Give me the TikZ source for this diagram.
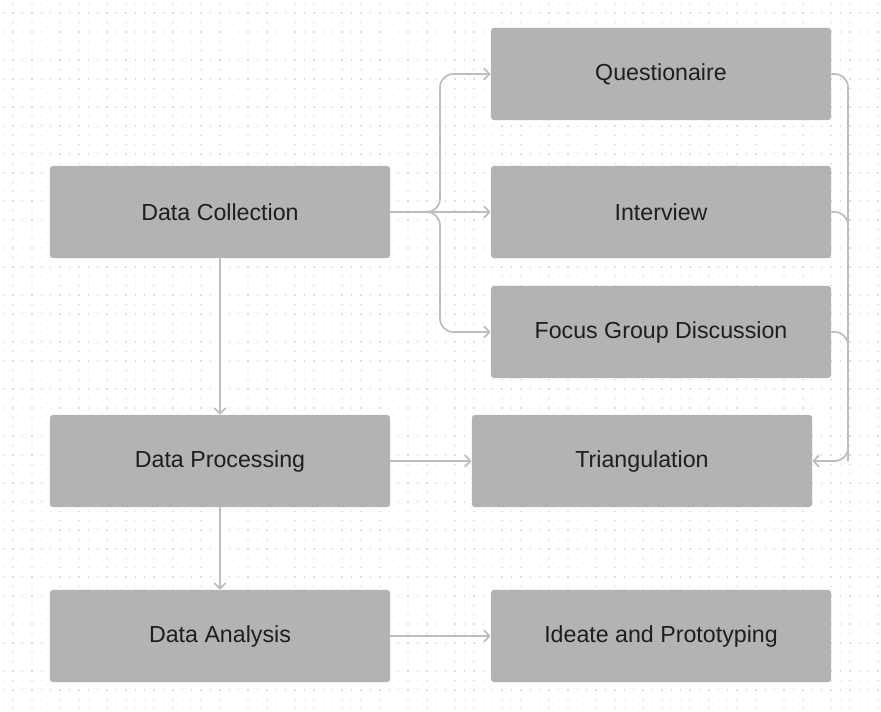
\documentclass[tikz,border=0pt]{standalone}
\usepackage{fontspec}
\setmainfont{Liberation Sans}
\usepackage{tikz}
\usetikzlibrary{arrows.meta, positioning}
\definecolor{boxgray}{HTML}{B3B3B3}
\definecolor{textdark}{HTML}{1E1E1E}
\definecolor{linkgray}{HTML}{BDBDBD}
\definecolor{dotgray}{HTML}{DCDCDC}

\begin{document}
\begin{tikzpicture}[
  x=0.025cm, y=-0.025cm,
  stepbox/.style={fill=boxgray, rounded corners=2pt, minimum width=8.5cm, minimum height=2.3cm, align=center, text=textdark, font=\fontsize{16.5}{20}\selectfont},
  link/.style={draw=linkgray, line width=1.2pt, rounded corners=0.33cm},
  arrow/.style={link, -{Straight Barb[length=1.4mm, width=2.9mm]}},
  griddot/.style={draw=dotgray, line width=0.035cm, dash pattern=on 0.035cm off 0.2cm}
]
  % canvas with dotted grid
  \fill[white] (0,0) rectangle (881,711);
  \useasboundingbox (0,0) rectangle (881,711);
  \foreach \r in {0,...,75}
    \draw[griddot] (3,3.6+9.4*\r) -- (881,3.6+9.4*\r);

  \node[stepbox] (collect) at (220,212) {Data Collection};
  \node[stepbox] (quest)   at (661,74)  {Questionaire};
  \node[stepbox] (inter)   at (661,212) {Interview};
  \node[stepbox] (fgd)     at (661,332) {Focus Group Discussion};
  \node[stepbox] (process) at (220,461) {Data Processing};
  \node[stepbox] (tri)     at (642,461) {Triangulation};
  \node[stepbox] (analyse) at (220,636) {Data Analysis};
  \node[stepbox] (ideate)  at (661,636) {Ideate and Prototyping};

  \coordinate (fork)  at (440,212);
  \coordinate (merge) at (848,461);

  \draw[arrow] (collect.east) -- (fork) |- (quest.west);
  \draw[arrow] (collect.east) -- (inter.west);
  \draw[arrow] (collect.east) -- (fork) |- (fgd.west);

  \draw[arrow] (quest.east) -| (merge) -- (tri.east);
  \draw[link] (inter.east) -| (merge);
  \draw[link] (fgd.east) -| (merge);

  \draw[arrow] (collect.south) -- (process.north);
  \draw[arrow] (process.south) -- (analyse.north);
  \draw[arrow] (process.east) -- (tri.west);
  \draw[arrow] (analyse.east) -- (ideate.west);
\end{tikzpicture}
\end{document}
